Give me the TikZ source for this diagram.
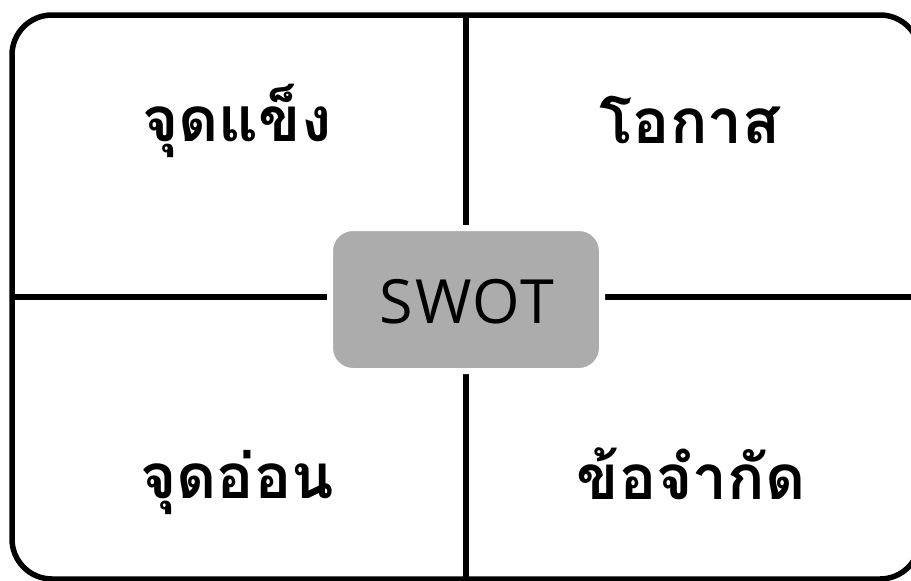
\documentclass[tikz,border=0pt]{standalone}
\usepackage{fontspec}
\newfontfamily\thaifont[Script=Thai]{Loma}
\newfontfamily\swotfont[LetterSpace=3]{Open Sans}
\begin{document}
\begin{tikzpicture}[x=1pt,y=-1pt,
  frameline/.style={line width=5.5pt,black},
  divider/.style={line width=5.5pt,black},
  centerbox/.style={rounded corners=23pt,fill=gray!65!white,draw=white,line width=6pt,
    minimum width=272pt,minimum height=143pt,inner sep=0pt},
  quad/.style={anchor=base,inner sep=0pt,font=\thaifont\bfseries\fontsize{62}{72}\selectfont}]
\useasboundingbox (0,0) rectangle (911,581);
\clip (0,0) rectangle (911,581);
\coordinate (tl) at (12,15);
\coordinate (br) at (920,579);
\coordinate (top) at (466,15);
\coordinate (bot) at (466,579);
\coordinate (lft) at (12,297);
\coordinate (rgt) at (920,297);
\draw[frameline,rounded corners=40pt] (tl) rectangle (br);
\draw[divider] (top) -- (bot);
\draw[divider] (lft) -- (rgt);
\node[centerbox] (swot) at (466,299.5) {};
\node[anchor=base,inner sep=0pt,font=\swotfont\fontsize{61}{61}\selectfont] (swotlabel) at (467,323) {SWOT};
\node[quad] (s) at (237,141) {จุดแข็ง};
\node[quad] (o) at (690,143) {โอกาส};
\node[quad] (w) at (237,498) {จุดอ่อน};
\node[quad] (t) at (691,499) {ข้อจำกัด};
\end{tikzpicture}
\end{document}
